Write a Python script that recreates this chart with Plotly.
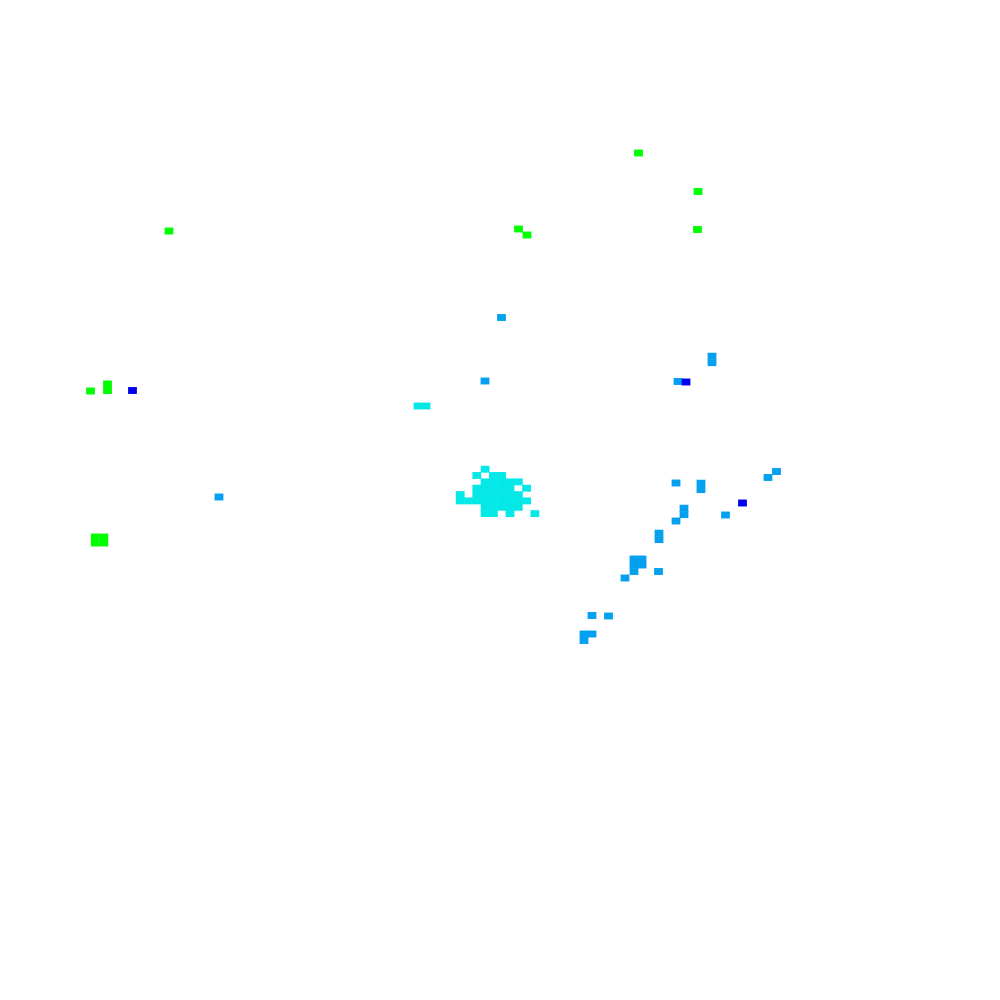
import plotly.graph_objects as go

# Cell centres (x to the right, y downward, both on a 0-1000 scale)
green_x = [638.5, 698.0, 697.5, 169.0, 518.5, 527.0, 90.5, 107.5, 107.5,
           95.3, 103.8, 95.3, 103.8]
green_y = [153.0, 191.5, 229.5, 231.0, 229.0, 235.0, 391.0, 384.0, 390.5,
           537.0, 537.0, 543.0, 543.0]

cyan_x = [418.0, 426.0,
          485.1,
          476.8, 493.4, 501.7,
          485.1, 493.4, 501.7, 510.0, 518.3,
          476.8, 485.1, 493.4, 501.7, 510.0, 526.6,
          460.2, 476.8, 485.1, 493.4, 501.7, 510.0, 518.3,
          460.2, 468.5, 476.8, 485.1, 493.4, 501.7, 510.0, 518.3, 526.6,
          485.1, 493.4, 501.7, 510.0, 518.3,
          485.1, 493.4, 510.0, 534.9]
cyan_y = [406.0, 406.0,
          469.2,
          475.5, 475.5, 475.5,
          481.9, 481.9, 481.9, 481.9, 481.9,
          488.2, 488.2, 488.2, 488.2, 488.2, 488.2,
          494.6, 494.6, 494.6, 494.6, 494.6, 494.6, 494.6,
          500.9, 500.9, 500.9, 500.9, 500.9, 500.9, 500.9, 500.9, 500.9,
          507.3, 507.3, 507.3, 507.3, 507.3,
          513.6, 513.6, 513.6, 513.6]

azure_x = [768.0, 776.5, 676.0, 701.0, 701.0, 684.0, 684.0, 676.0, 725.5,
           659.0, 659.0, 634.0, 642.0, 634.0, 642.0, 634.0, 658.5, 625.0,
           592.0, 608.5, 584.0, 592.0, 584.0, 501.5, 485.0, 712.0, 712.0,
           678.0, 219.0]
azure_y = [477.5, 471.5, 483.0, 483.2, 489.6, 508.2, 514.6, 521.0, 515.0,
           533.2, 539.6, 559.0, 559.0, 565.0, 565.0, 571.5, 571.5, 578.0,
           615.5, 616.0, 634.0, 634.0, 640.5, 317.5, 381.0, 356.2, 362.7,
           381.5, 497.0]

blue_x = [132.5, 686.0, 742.5]
blue_y = [390.5, 382.0, 503.0]

groups = [
    ("green", green_x, green_y, "#00ff00"),
    ("cyan", cyan_x, cyan_y, "#05e8e8"),
    ("azure", azure_x, azure_y, "#03a0f0"),
    ("blue", blue_x, blue_y, "#0000ee"),
]

CELL_W = 8.8
CELL_H = 6.9

fig = go.Figure()
for name, xs, ys, col in groups:
    fig.add_trace(go.Scatter(
        x=xs, y=ys, mode="markers", name=name,
        marker=dict(symbol="line-ew", size=CELL_W / 1.4,
                    color=col, line=dict(color=col, width=CELL_H)),
        hoverinfo="skip",
    ))

fig.update_layout(
    width=1000, height=1000,
    margin=dict(l=0, r=0, t=0, b=0),
    paper_bgcolor="white", plot_bgcolor="white",
    showlegend=False,
    xaxis=dict(range=[0, 1000], visible=False, fixedrange=True),
    yaxis=dict(range=[1000, 0], visible=False, fixedrange=True),
)

fig.write_html("out.html", config={"displayModeBar": False},
               post_script="document.body.style.margin='0';document.body.style.overflow='hidden';")
